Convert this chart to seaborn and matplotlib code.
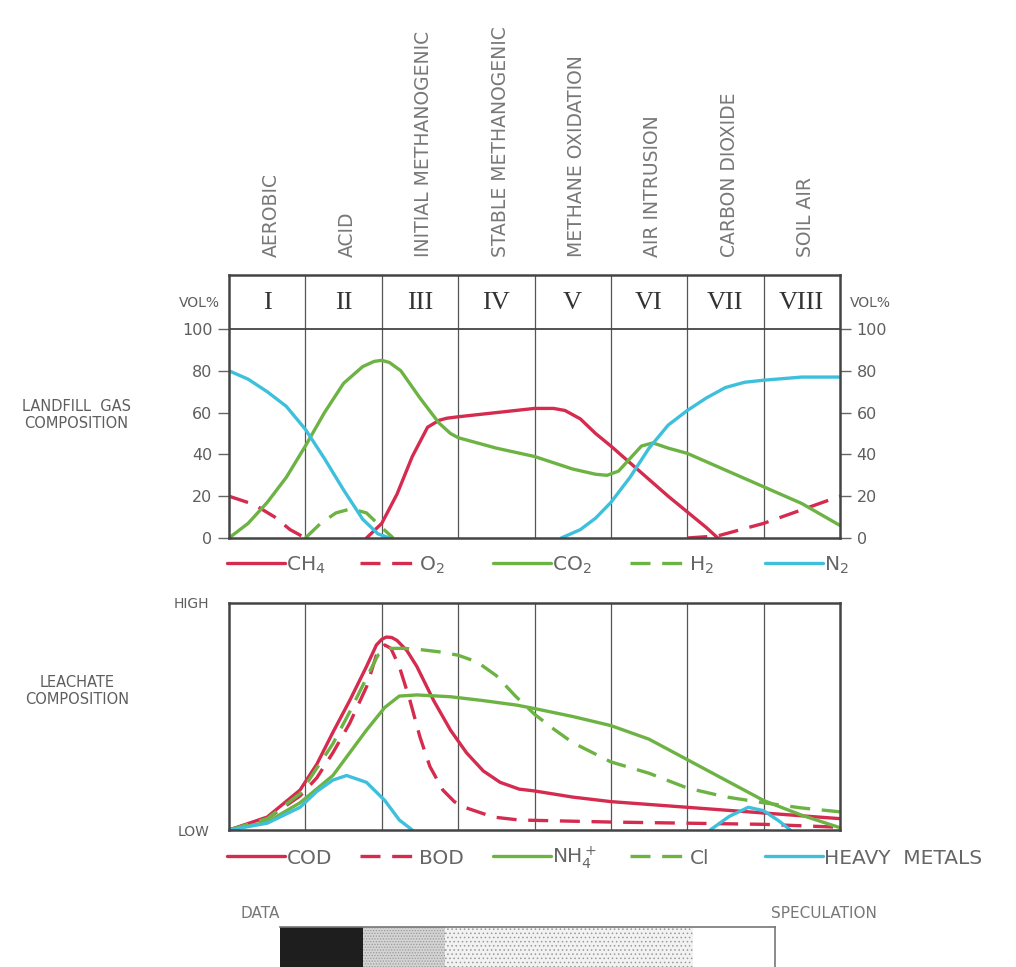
import matplotlib
matplotlib.use("Agg")
import matplotlib.pyplot as plt
import seaborn as sns
import numpy as np
import pandas as pd

# ---------------- data ----------------
phase_numerals = ["I", "II", "III", "IV", "V", "VI", "VII", "VIII"]
phase_names = ["AEROBIC", "ACID", "INITIAL METHANOGENIC", "STABLE METHANOGENIC",
               "METHANE OXIDATION", "AIR INTRUSION", "CARBON DIOXIDE", "SOIL AIR"]
gas_ticks = [0, 20, 40, 60, 80, 100]

# landfill gas composition (vol %), x in phase units (0..8)
ch4_x = [1.8, 2.0, 2.2, 2.4, 2.6, 2.75, 2.85, 3.0, 3.5, 4.0, 4.25, 4.4, 4.6, 4.8, 5.0, 5.25, 5.5,
         5.75, 6.0, 6.25, 6.4]
ch4_y = [0, 7, 21, 39, 53, 56.3, 57.3, 58, 60, 62, 62, 61, 57, 50, 44, 36, 28,
         20, 12.5, 5, 0]

o2_x_a = [0, 0.33, 0.6, 0.8, 1.0]
o2_y_a = [20, 16, 10, 4, 0]
o2_x_b = [6.0, 6.4, 7.0, 7.5, 8.0]
o2_y_b = [0, 1, 7, 13.5, 20]

co2_x = [0, 0.25, 0.5, 0.75, 1.0, 1.25, 1.5, 1.75, 1.9, 2.0, 2.1, 2.25, 2.5, 2.75, 2.9, 3.0, 3.5,
         4.0, 4.5, 4.8, 4.95, 5.1, 5.25, 5.4, 5.55, 5.75, 6.0, 6.5, 7.0, 7.5, 8.0]
co2_y = [0, 7, 17, 29, 44, 60, 74, 82, 84.5, 85, 84, 80, 67, 55, 50, 48, 43,
         39, 33, 30.5, 30, 32, 38, 44, 45.5, 43, 40.5, 32.5, 24.5, 16.5, 6]

h2_x = [1.0, 1.2, 1.4, 1.6, 1.8, 2.0, 2.15]
h2_y = [0, 7, 12, 14, 12, 5, 0]

n2_x_a = [0, 0.25, 0.5, 0.75, 1.0, 1.25, 1.5, 1.75, 1.95, 2.1]
n2_y_a = [80, 76, 70, 63, 52, 38, 23, 9, 2, 0]
n2_x_b = [4.35, 4.6, 4.8, 5.0, 5.25, 5.5, 5.75, 6.0, 6.25, 6.5, 6.75, 7.0, 7.5, 8.0]
n2_y_b = [0, 4, 9.5, 17, 29, 43, 54, 61, 67, 72, 74.5, 75.5, 77, 77]

# leachate composition (0 = LOW, 1 = HIGH)
cod_x = [0, 0.5, 0.93, 1.15, 1.36, 1.58, 1.8, 1.93, 2.0, 2.06, 2.13, 2.2, 2.33, 2.46, 2.68, 2.9,
         3.11, 3.33, 3.55, 3.8, 4.0, 4.5, 5.0, 6.0, 7.0, 8.0]
cod_y = [0, 0.057, 0.176, 0.29, 0.43, 0.57, 0.72, 0.815, 0.84, 0.85, 0.848, 0.835, 0.79, 0.72, 0.57,
         0.44, 0.34, 0.26, 0.21, 0.18, 0.172, 0.145, 0.125, 0.10, 0.075, 0.05]

bod_x = [0, 0.5, 0.93, 1.15, 1.36, 1.58, 1.8, 1.93, 2.0, 2.04, 2.12, 2.23, 2.37, 2.5, 2.63, 2.8,
         2.95, 3.11, 3.46, 3.8, 5.0, 6.0, 7.0, 8.0]
bod_y = [0, 0.05, 0.15, 0.23, 0.34, 0.47, 0.63, 0.77, 0.805, 0.815, 0.8, 0.72, 0.57, 0.41, 0.28,
         0.176, 0.125, 0.097, 0.057, 0.044, 0.035, 0.03, 0.025, 0.012]

nh4_x = [0, 0.5, 0.93, 1.36, 1.58, 1.8, 2.04, 2.23, 2.46, 2.9, 3.33, 3.77, 4.0, 4.5, 5.0,
         5.5, 6.0, 6.5, 7.0, 7.5, 8.0]
nh4_y = [0, 0.035, 0.12, 0.24, 0.34, 0.44, 0.54, 0.59, 0.595, 0.587, 0.57, 0.55, 0.535, 0.5, 0.46,
         0.40, 0.31, 0.22, 0.13, 0.065, 0.01]

cl_x = [0, 0.5, 0.93, 1.36, 1.58, 1.8, 1.95, 2.1, 2.3, 2.5, 2.75, 3.0, 3.25, 3.5, 3.75, 4.0,
        4.25, 4.5, 5.0, 5.5, 6.0, 6.5, 7.0, 7.5, 8.0]
cl_y = [0, 0.05, 0.16, 0.38, 0.52, 0.67, 0.77, 0.80, 0.80, 0.795, 0.785, 0.77, 0.74, 0.68, 0.59, 0.51,
        0.445, 0.385, 0.30, 0.25, 0.185, 0.146, 0.12, 0.097, 0.08]

hm_x_a = [0, 0.5, 0.93, 1.15, 1.36, 1.54, 1.8, 2.04, 2.23, 2.4]
hm_y_a = [0, 0.03, 0.10, 0.17, 0.22, 0.24, 0.21, 0.13, 0.044, 0]
hm_x_b = [6.3, 6.55, 6.8, 7.0, 7.2, 7.35]
hm_y_b = [0, 0.06, 0.1, 0.085, 0.04, 0]

confidence_labels = ["DATA", "SPECULATION"]
confidence_segments = [1, 1, 3, 1]

# ---------------- style ----------------
RED = "#d42b4e"
GREEN = "#6db344"
CYAN = "#3ec0dd"
TXT = "#5e5e5e"
FRAME = "#444444"
LW = 2.4
DASH = (0, (6, 3.5))

sns.set_style("white")
plt.rcParams["font.family"] = ["DejaVu Sans"]
plt.rcParams["hatch.linewidth"] = 0.6

W, H = 1016, 967
fig = plt.figure(figsize=(W / 100, H / 100), dpi=100)


def px_axes(l, t, r, b):
    return fig.add_axes([l / W, 1 - b / H, (r - l) / W, (b - t) / H])


def draw(ax, segments, color, ls):
    line = None
    for xs, ys in segments:
        df = pd.DataFrame({"phase": xs, "value": ys})
        sns.lineplot(data=df, x="phase", y="value", ax=ax, color=color, linewidth=LW,
                     linestyle=ls, estimator=None, sort=False)
        line = ax.lines[-1]
        line.set_solid_joinstyle("round")
        line.set_dash_joinstyle("round")
    return line


def frame(ax):
    for s in ax.spines.values():
        s.set_visible(True)
        s.set_color(FRAME)
        s.set_linewidth(1.8)
    ax.set_xlim(0, len(phase_numerals))
    ax.set_xticks([])
    for i in range(1, len(phase_numerals)):
        ax.axvline(i, color="#555555", lw=0.9, zorder=0)


# ---------------- gas panel ----------------
ax1 = px_axes(229, 275, 840, 538)
frame(ax1)
ytop = 100 * (538 - 275) / (538 - 329)

gas_lines = [
    ("CH$_4$", draw(ax1, [(ch4_x, ch4_y)], RED, "-")),
    ("O$_2$", draw(ax1, [(o2_x_a, o2_y_a), (o2_x_b, o2_y_b)], RED, DASH)),
    ("CO$_2$", draw(ax1, [(co2_x, co2_y)], GREEN, "-")),
    ("H$_2$", draw(ax1, [(h2_x, h2_y)], GREEN, DASH)),
    ("N$_2$", draw(ax1, [(n2_x_a, n2_y_a), (n2_x_b, n2_y_b)], CYAN, "-")),
]
ax1.set_xlim(0, 8)
ax1.set_ylim(0, ytop)
ax1.set_xlabel("")
ax1.set_ylabel("")
ax1.set_xticks([])
ax1.axhline(100, color=FRAME, lw=1.3)
ax1.set_yticks(gas_ticks)
ax1.set_yticklabels([str(t) for t in gas_ticks])
ax1.tick_params(axis="y", left=True, right=True, labelleft=True, labelright=True,
                length=8, width=1, color="#666666", pad=4, labelsize=11.5, labelcolor=TXT)

for i, (num, name) in enumerate(zip(phase_numerals, phase_names)):
    ax1.text(i + 0.5, 112.4, num, ha="center", va="center", family="Liberation Serif",
             fontsize=19, color="#333333")
    ax1.text(i + 0.55, (538 - 257) / (538 - 275), name, rotation=90, ha="center", va="bottom",
             fontsize=13.5, color="#787878", transform=ax1.get_xaxis_transform(), clip_on=False)

ax1.text(-0.12, 112.4, "VOL%", ha="right", va="center", fontsize=10, color=TXT)
ax1.text(8.13, 112.4, "VOL%", ha="left", va="center", fontsize=10, color=TXT)
fig.text(76 / W, 1 - 415 / H, "LANDFILL  GAS\nCOMPOSITION", ha="center", va="center",
         fontsize=10.5, color=TXT, linespacing=1.2)

# ---------------- leachate panel ----------------
ax2 = px_axes(229, 603, 840, 830)
frame(ax2)
leach_lines = [
    ("COD", draw(ax2, [(cod_x, cod_y)], RED, "-")),
    ("BOD", draw(ax2, [(bod_x, bod_y)], RED, DASH)),
    ("NH$_4^+$", draw(ax2, [(nh4_x, nh4_y)], GREEN, "-")),
    ("Cl", draw(ax2, [(cl_x, cl_y)], GREEN, DASH)),
    ("HEAVY  METALS", draw(ax2, [(hm_x_a, hm_y_a), (hm_x_b, hm_y_b)], CYAN, "-")),
]
ax2.set_xlim(0, 8)
ax2.set_ylim(0, 1)
ax2.set_xticks([])
ax2.set_yticks([0, 1])
ax2.set_yticklabels(["LOW", "HIGH"])
ax2.tick_params(axis="y", left=False, length=0, pad=14, labelsize=10, labelcolor=TXT)
ax2.set_xlabel("")
ax2.set_ylabel("")
fig.text(77 / W, 1 - 691 / H, "LEACHATE\nCOMPOSITION", ha="center", va="center",
         fontsize=10.5, color=TXT, linespacing=1.2)

# ---------------- legends ----------------
legend_x = [227, 360, 493, 630, 765]
for row_y, entries in [(565, gas_lines), (858, leach_lines)]:
    for xpx, (lab, ln) in zip(legend_x, entries):
        fig.legend(handles=[ln], labels=[lab], loc="center left",
                   bbox_to_anchor=(xpx / W, 1 - row_y / H), frameon=False,
                   handlelength=2.9, handletextpad=0.05, borderpad=0, borderaxespad=0,
                   fontsize=14.5, labelcolor="#666666")

# ---------------- data / speculation bar ----------------
ax3 = px_axes(280, 927, 775, 967)
colors = ["#1e1e1e", "#d4d4d4", "#f2f2f2", "#ffffff"]
hatches = [None, "......", "....", None]
left = 0
for w, c, h in zip(confidence_segments, colors, hatches):
    ax3.barh(0.5, w, left=left, height=1.0, color=c, hatch=h,
             edgecolor="#9a9a9a" if h else c, linewidth=0)
    left += w
ax3.set_xlim(0, sum(confidence_segments))
ax3.set_ylim(0, 1)
ax3.set_xticks([])
ax3.set_yticks([])
for k, s in ax3.spines.items():
    s.set_visible(k in ("top", "right"))
    s.set_color("#777777")
    s.set_linewidth(1.2)

fig.text(240 / W, 1 - 913 / H, confidence_labels[0], ha="left", va="center",
         fontsize=11, color="#777777")
fig.text(877 / W, 1 - 913 / H, confidence_labels[1], ha="right", va="center",
         fontsize=11, color="#777777")

fig.savefig("out.png", dpi=100)
